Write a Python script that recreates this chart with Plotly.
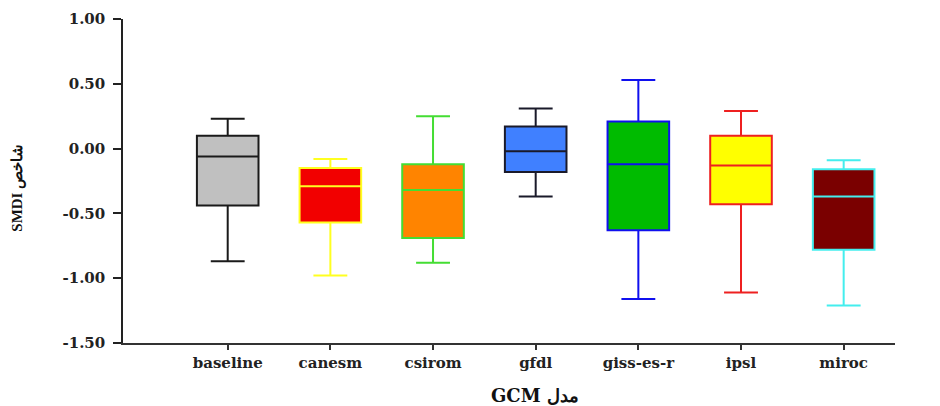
import plotly.graph_objects as go

categories = ["baseline", "canesm", "csirom", "gfdl", "giss-es-r", "ipsl", "miroc"]
upper_whisker = [0.23, -0.08, 0.25, 0.31, 0.53, 0.29, -0.09]
q3_values = [0.10, -0.15, -0.12, 0.17, 0.21, 0.10, -0.16]
median_values = [-0.06, -0.29, -0.32, -0.02, -0.12, -0.13, -0.37]
q1_values = [-0.44, -0.57, -0.69, -0.18, -0.63, -0.43, -0.78]
lower_whisker = [-0.87, -0.98, -0.88, -0.37, -1.16, -1.11, -1.21]

fill_colors = ["#c0c0c0", "#f20000", "#ff8400", "#4080ff", "#00bb00", "#ffff00", "#7a0000"]
line_colors = ["#1a1a1a", "#ffff20", "#44dd33", "#1a1a2a", "#1010ee", "#ee2020", "#44eeee"]

y_tick_values = [-1.5, -1.0, -0.5, 0.0, 0.5, 1.0]
y_tick_labels = ["-1.50", "-1.00", "-0.50", "0.00", "0.50", "1.00"]

fig = go.Figure()
for i, cat in enumerate(categories):
    fig.add_trace(go.Box(
        x=[cat],
        q1=[q1_values[i]],
        median=[median_values[i]],
        q3=[q3_values[i]],
        lowerfence=[lower_whisker[i]],
        upperfence=[upper_whisker[i]],
        fillcolor=fill_colors[i],
        line=dict(color=line_colors[i], width=2),
        width=0.6,
        whiskerwidth=0.55,
        boxpoints=False,
        showlegend=False,
        name=cat,
    ))

tick_font = dict(family="DejaVu Serif", size=15, color="#222", weight="bold")

fig.update_layout(
    width=940, height=406,
    margin=dict(l=115, r=53, t=11, b=71),
    paper_bgcolor="white", plot_bgcolor="white",
    boxmode="overlay",
    xaxis=dict(
        type="category", categoryorder="array", categoryarray=categories,
        range=[-1.02, 6.5], automargin=False,
        showline=True, linecolor="#333", linewidth=1.5,
        ticks="outside", ticklen=5, tickwidth=1.5, tickcolor="#333",
        showgrid=False, zeroline=False,
        tickfont=tick_font,
    ),
    yaxis=dict(
        range=[-1.5, 1.0], automargin=False,
        tickvals=y_tick_values, ticktext=y_tick_labels,
        showline=True, linecolor="#222", linewidth=1.5,
        ticks="outside", ticklen=8, tickwidth=1.5, tickcolor="#222",
        ticklabelstandoff=5,
        showgrid=False, zeroline=False,
        tickfont=tick_font,
    ),
    annotations=[
        dict(text="GCM مدل", xref="paper", yref="paper", x=0.534, y=-0.163,
             showarrow=False, xanchor="center", yanchor="middle",
             font=dict(family="DejaVu Serif", size=18, color="#111", weight="bold")),
        dict(text="SMDI شاخص", xref="paper", yref="paper", x=-0.137, y=0.48,
             showarrow=False, xanchor="center", yanchor="middle", textangle=-90,
             font=dict(family="Liberation Serif", size=15, color="#111", weight="bold")),
    ],
)

fig.write_html("out.html")
